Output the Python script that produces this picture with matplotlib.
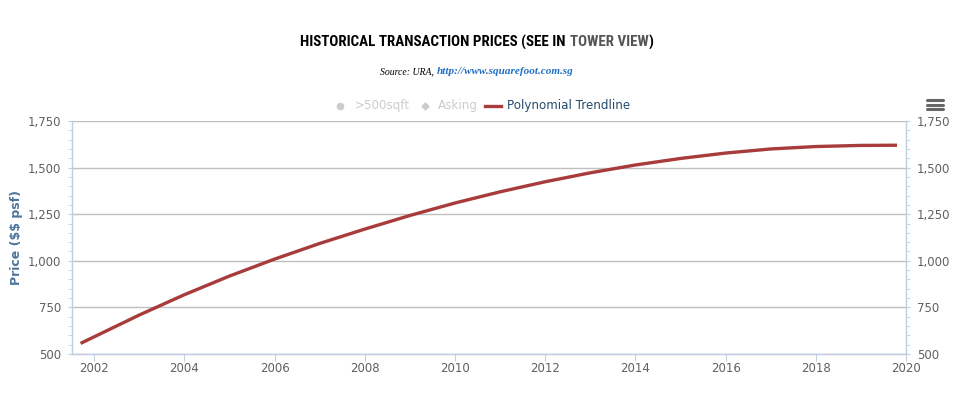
import matplotlib
matplotlib.use("Agg")
import matplotlib.pyplot as plt
from matplotlib.lines import Line2D
from matplotlib.ticker import FuncFormatter, MultipleLocator
from matplotlib import font_manager as fm

# ---- data ----
years = [2001.7, 2002, 2003, 2004, 2005, 2006, 2007, 2008, 2009, 2010,
         2011, 2012, 2013, 2014, 2015, 2016, 2017, 2018, 2019, 2019.8]
trend = [557, 592, 709, 818, 918, 1009, 1093, 1170, 1243, 1310,
         1370, 1424, 1472, 1514, 1549, 1578, 1600, 1613, 1619, 1620]
x_ticks = [2002, 2004, 2006, 2008, 2010, 2012, 2014, 2016, 2018, 2020]
y_ticks = [500, 750, 1000, 1250, 1500, 1750]
legend_labels = [">500sqft", "Asking", "Polynomial Trendline"]
title_main = "HISTORICAL TRANSACTION PRICES (SEE IN"
title_link = "TOWER VIEW"
title_end = ")"
source_text = "Source: URA,"
source_link = "http://www.squarefoot.com.sg"
y_title = r"Price (\$\$ psf)"

W, H = 963, 398
fig = plt.figure(figsize=(W / 100, H / 100), dpi=100)
fig.patch.set_facecolor("white")

def fx(px):
    return px / W

def fy(py):
    return 1 - py / H

ax = fig.add_axes([fx(72), fy(354), fx(906) - fx(72), fy(121) - fy(354)])
ax.plot(years, trend, color="#A83B3B", lw=2.4, solid_capstyle="butt", zorder=3)

ax.set_xlim(2001.51, 2020)
ax.set_ylim(500, 1750)
ax.set_xticks(x_ticks)
ax.set_yticks(y_ticks)
ax.yaxis.set_minor_locator(MultipleLocator(50))
ax.yaxis.set_major_formatter(FuncFormatter(lambda v, p: f"{int(v):,}"))

axis_col = "#C0D0E0"
for s in ["left", "right", "bottom"]:
    ax.spines[s].set_color(axis_col)
    ax.spines[s].set_linewidth(1)
ax.spines["top"].set_visible(False)
ax.grid(axis="y", color="#C0C0C0", lw=1)
ax.set_axisbelow(True)

ax.tick_params(axis="x", direction="out", length=5, color=axis_col,
               labelsize=8.5, labelcolor="#606060", pad=1)
ax.tick_params(axis="y", which="both", direction="out", length=3,
               color=axis_col, labelsize=8.5, labelcolor="#606060", pad=5)

ax2 = ax.twinx()
ax2.set_ylim(500, 1750)
ax2.set_yticks(y_ticks)
ax2.yaxis.set_minor_locator(MultipleLocator(50))
ax2.yaxis.set_major_formatter(FuncFormatter(lambda v, p: f"{int(v):,}"))
for s in ["left", "right", "bottom"]:
    ax2.spines[s].set_color(axis_col)
ax2.spines["top"].set_visible(False)
ax2.tick_params(axis="y", which="both", direction="out", length=3,
                color=axis_col, labelsize=8.5, labelcolor="#606060", pad=5)

ax.set_ylabel(y_title, color="#4D759E", fontsize=9, fontweight="bold", labelpad=3)

# ---- title in pieces (condensed bold font) ----
avail = {f.name for f in fm.fontManager.ttflist}
cond = [n for n in ["Roboto Condensed", "Open Sans Condensed", "IBM Plex Sans Condensed",
                    "Archivo Narrow", "Liberation Sans"] if n in avail]
title_family = cond[:1] + ["DejaVu Sans"]

fig.canvas.draw()
r = fig.canvas.get_renderer()
pieces = [(title_main, "#000000"), (title_link, "#555555"), (title_end, "#000000")]

def measure(size):
    f = dict(fontsize=size, fontweight="bold", fontstretch="condensed", family=title_family)
    tmp = [fig.text(0, 0, s, **f) for s, c in pieces]
    ws = [t.get_window_extent(r).width for t in tmp]
    for t in tmp:
        t.remove()
    return f, ws

f10, w10 = measure(10)
gap_ratio = 0.28
size = 10 * 352 / (sum(w10) + gap_ratio * 10 * 1.39)
size = max(9.0, min(12.0, size))
tfont, widths = measure(size)
gaps = [gap_ratio * size * 1.39, 0, 0]
total = sum(widths) + sum(gaps)
x0 = 477 - total / 2
for (s, c), w, g in zip(pieces, widths, gaps):
    fig.text(fx(x0), fy(42), s, color=c, ha="left", va="center", **tfont)
    x0 += w + g

sfont1 = dict(fontsize=7, style="italic", family=["Liberation Serif", "DejaVu Serif"])
sfont2 = dict(fontsize=8, style="italic", fontweight="bold", family=["Liberation Serif", "DejaVu Serif"])
t1 = fig.text(0, 0, source_text, **sfont1)
t2 = fig.text(0, 0, source_link, **sfont2)
w1 = t1.get_window_extent(r).width
w2 = t2.get_window_extent(r).width
t1.remove(); t2.remove()
gap = 3
x0 = 477 - (w1 + gap + w2) / 2
fig.text(fx(x0), fy(72), source_text, color="#000000", ha="left", va="center", **sfont1)
fig.text(fx(x0 + w1 + gap), fy(72), source_link, color="#1F6FC5", ha="left", va="center", **sfont2)

# ---- legend drawn manually ----
lfont = dict(fontsize=8.6, va="center", ha="left")
fig.add_artist(Line2D([fx(340)], [fy(106)], marker="o", ms=4.5, color="#CCCCCC", lw=0))
fig.text(fx(355), fy(106), legend_labels[0], color="#CCCCCC", **lfont)
fig.add_artist(Line2D([fx(425)], [fy(106)], marker="D", ms=3.5, color="#CCCCCC", lw=0))
fig.text(fx(438), fy(106), legend_labels[1], color="#CCCCCC", **lfont)
fig.add_artist(Line2D([fx(485), fx(501)], [fy(106), fy(106)], color="#A83B3B", lw=2.4))
fig.text(fx(507), fy(106), legend_labels[2], color="#274B6D", **lfont)

# ---- menu icon ----
for yy in (100, 104.5, 109):
    fig.add_artist(Line2D([fx(927), fx(943)], [fy(yy), fy(yy)], color="#666666", lw=2.2,
                          solid_capstyle="round"))

fig.savefig("out.png", dpi=100, facecolor="white")
